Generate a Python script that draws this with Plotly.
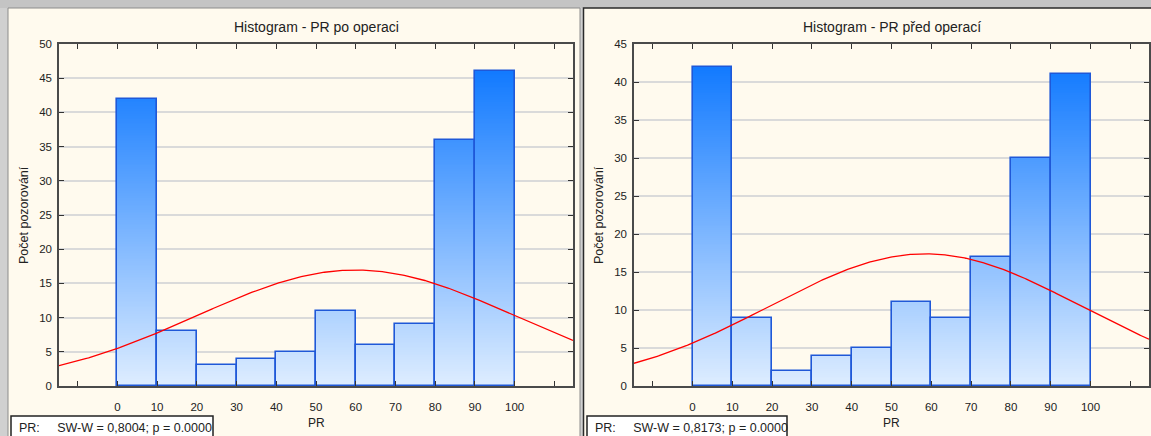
import math
import numpy as np
import plotly.graph_objects as go

# ---- data -------------------------------------------------------------
bin_centers = [5, 15, 25, 35, 45, 55, 65, 75, 85, 95]
bin_width = 10
counts_after = [42, 8, 3, 4, 5, 11, 6, 9, 36, 46]    # PR po operaci
counts_before = [42, 9, 2, 4, 5, 11, 9, 17, 30, 41]  # PR před operací

# fitted normal distribution (mean, standard deviation)
fit_after = (60.0, 40.0)
fit_before = (58.5, 39.0)

x_tick_vals = list(range(-10, 111, 10))
x_tick_text = [""] + [str(v) for v in range(0, 101, 10)] + [""]
y_tick_after = list(range(0, 51, 5))
y_tick_before = list(range(0, 46, 5))

titles = ["Histogram - PR po operaci", "Histogram - PR před operací"]
stats_after = "PR:\u00a0\u00a0\u00a0\u00a0\u00a0SW-W = 0,8004; p = 0.0000"
stats_before = "PR:\u00a0\u00a0\u00a0\u00a0\u00a0SW-W = 0,8173; p = 0.0000"
y_title = "Počet pozorování"
x_title = "PR"

# ---- layout geometry (pixels) -----------------------------------------
W, H = 1151, 436
X_RANGE = [-14.7, 114.7]
FONT = "Liberation Sans, Arial, sans-serif"


def px(x):
    return x / W


def py(y):
    return 1 - y / H


panels = [
    dict(counts=counts_after, fit=fit_after, yticks=y_tick_after, yrange=[0, 50],
         left=59, right=573, title=titles[0], stats=stats_after,
         box=(11, 213), xa="x", ya="y"),
    dict(counts=counts_before, fit=fit_before, yticks=y_tick_before, yrange=[0, 45],
         left=634, right=1149, title=titles[1], stats=stats_before,
         box=(587, 787), xa="x2", ya="y2"),
]
PLOT_TOP, PLOT_BOTTOM = 44, 386

TOP_RGB = (18, 122, 255)
BOTTOM_RGB = (222, 237, 255)


def blend(t):
    t = max(0.0, min(1.0, t))
    c = [round(b + (a - b) * t) for a, b in zip(TOP_RGB, BOTTOM_RGB)]
    return f"rgb({c[0]},{c[1]},{c[2]})"


fig = go.Figure()
shapes = []
annotations = []

# window backgrounds
shapes.append(dict(type="rect", xref="paper", yref="paper", x0=px(0), x1=px(W),
                   y0=py(0), y1=py(8), fillcolor="#c4c4c4", line_width=0, layer="below"))
shapes.append(dict(type="rect", xref="paper", yref="paper", x0=px(8), x1=px(580),
                   y0=py(8), y1=py(H + 5), fillcolor="#fffaee",
                   line=dict(color="#8c8c8c", width=1), layer="below"))
shapes.append(dict(type="rect", xref="paper", yref="paper", x0=px(583.5), x1=px(W + 10),
                   y0=py(8), y1=py(H + 5), fillcolor="#fffaee",
                   line=dict(color="#2a2a2a", width=1.5), layer="below"))

step = 0.25
for i, p in enumerate(panels):
    sfx = "" if i == 0 else "2"
    counts = p["counts"]
    top = max(counts)

    # gradient-filled bars built from thin stacked slices
    xs, bases, hs, cols = [], [], [], []
    for xc, c in zip(bin_centers, counts):
        n = int(math.ceil(c / step))
        for k in range(n):
            b = k * step
            h = min(c, b + step * 1.6) - b
            xs.append(xc)
            bases.append(b)
            hs.append(h)
            cols.append(blend((b + step / 2) / top))
    fig.add_trace(go.Bar(x=xs, y=hs, base=bases, width=bin_width,
                         marker=dict(color=cols, line=dict(width=0)),
                         hoverinfo="skip", showlegend=False,
                         xaxis=p["xa"], yaxis=p["ya"]))
    # bar outlines
    fig.add_trace(go.Bar(x=bin_centers, y=counts, width=bin_width,
                         marker=dict(color="rgba(0,0,0,0)",
                                     line=dict(color="#1f58d8", width=1.6)),
                         showlegend=False, xaxis=p["xa"], yaxis=p["ya"]))

    # expected frequencies of the fitted normal curve
    mu, sd = p["fit"]
    n_obs = sum(counts)
    xc = np.linspace(X_RANGE[0], X_RANGE[1], 400)
    yc = n_obs * bin_width / (sd * math.sqrt(2 * math.pi)) * np.exp(-((xc - mu) ** 2) / (2 * sd ** 2))
    fig.add_trace(go.Scatter(x=xc, y=yc, mode="lines",
                             line=dict(color="#ff0000", width=1.3),
                             showlegend=False, xaxis=p["xa"], yaxis=p["ya"]))

    dom_x = [px(p["left"]), px(p["right"])]
    dom_y = [py(PLOT_BOTTOM), py(PLOT_TOP)]
    fig.update_layout(**{
        "xaxis" + sfx: dict(domain=dom_x, range=X_RANGE, anchor="y" + sfx,
                            automargin=False,
                            tickmode="array", tickvals=x_tick_vals, ticktext=x_tick_text,
                            ticks="inside", ticklen=5, tickwidth=1.2, tickcolor="#333",
                            showline=True, linecolor="#4a4a4a", linewidth=1.5,
                            mirror="ticks", showgrid=False, zeroline=False,
                            ticklabelstandoff=9,
                            tickfont=dict(family=FONT, size=11.5, color="#222")),
        "yaxis" + sfx: dict(domain=dom_y, range=p["yrange"], anchor="x" + sfx,
                            automargin=False,
                            tickmode="array", tickvals=p["yticks"],
                            ticks="inside", ticklen=5, tickwidth=1.2, tickcolor="#333",
                            showline=True, linecolor="#4a4a4a", linewidth=1.5,
                            mirror="ticks", showgrid=True, gridcolor="#dadada",
                            gridwidth=1.5, zeroline=False, ticklabelstandoff=3,
                            tickfont=dict(family=FONT, size=11.5, color="#222")),
    })

    cx = (p["left"] + p["right"]) / 2
    annotations.append(dict(text=p["title"], xref="paper", yref="paper",
                            x=px(cx), y=py(27), xanchor="center", yanchor="middle",
                            showarrow=False,
                            font=dict(family=FONT, size=14, color="#222")))
    annotations.append(dict(text=x_title, xref="paper", yref="paper",
                            x=px(cx), y=py(423), xanchor="center", yanchor="middle",
                            showarrow=False,
                            font=dict(family=FONT, size=12, color="#222")))
    annotations.append(dict(text=y_title, xref="paper", yref="paper",
                            x=px(p["left"] - 35), y=py((PLOT_TOP + PLOT_BOTTOM) / 2),
                            xanchor="center", yanchor="middle",
                            textangle=-90, showarrow=False,
                            font=dict(family=FONT, size=12.5, color="#222")))
    bx0, bx1 = p["box"]
    shapes.append(dict(type="rect", xref="paper", yref="paper", x0=px(bx0), x1=px(bx1),
                       y0=py(H + 6), y1=py(416), fillcolor="white",
                       line=dict(color="#222", width=1.5), layer="above"))
    annotations.append(dict(text=p["stats"], xref="paper", yref="paper",
                            x=px(bx0 + 6), y=py(427.5), xanchor="left", yanchor="middle",
                            showarrow=False,
                            font=dict(family=FONT, size=12.5, color="#222")))

fig.update_layout(
    width=W, height=H, autosize=False,
    margin=dict(l=0, r=0, t=0, b=0, autoexpand=False),
    paper_bgcolor="#d0d0d0", plot_bgcolor="white",
    barmode="overlay", bargap=0,
    shapes=shapes, annotations=annotations,
    font=dict(family=FONT),
)

fig.write_html("out.html")
